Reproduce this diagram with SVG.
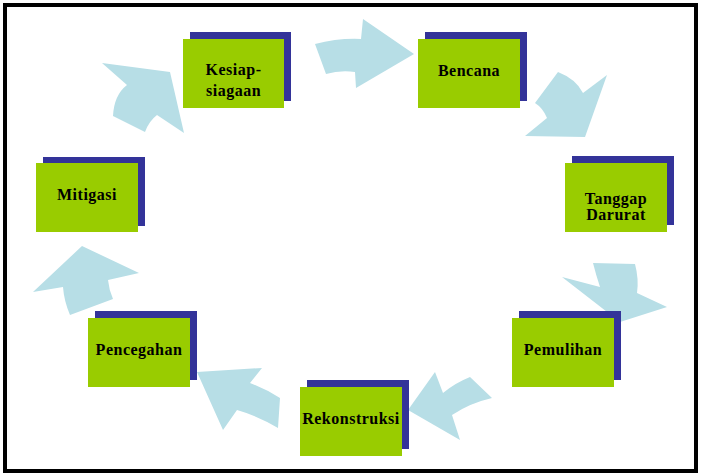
<svg xmlns="http://www.w3.org/2000/svg" width="702" height="476" viewBox="0 0 702 476">
<style>
.sh{fill:#333399}
.bx{fill:#99CC00}
.ar{fill:#B7DEE6}
text{font-family:"Liberation Serif","Times New Roman",serif;font-weight:bold;font-size:16px;letter-spacing:0.5px;fill:#000;text-anchor:middle}
</style>
<rect x="0" y="0" width="702" height="476" fill="#fff"/>
<rect x="5" y="5" width="691" height="466" fill="none" stroke="#000" stroke-width="4"/>
<g id="connectors">
<path class="ar" d="M113,116 Q114,95 127,85 L102,63 L170,72 L184,133 L157,115 Q149,121 145,132 Z"/>
<path class="ar" d="M315,44 Q338,38 361,39 L363,19 L414,54 L356,88 L355,72 Q340,70 326,74 Z"/>
<path class="ar" d="M558,72 Q576,79 583,93 L607,75 L585,137 L525,136 L547,118 Q543,108 535,103 Z"/>
<path class="ar" d="M593,263 L635,264 Q639,279 637,293 L667,307 L620,322 L562,277 L600,287 Q596,275 593,263 Z"/>
<path class="ar" d="M470,377 L492,398 Q470,403 452,415 L460,440 L408,410 L435,372 L443,393 Q455,383 470,377 Z"/>
<path class="ar" d="M280,398 L278,428 Q258,416 237,410 L223,430 L197,372 L262,368 L250,383 Q266,389 280,398 Z"/>
<path class="ar" d="M113,299 L70,315 Q64,301 63,287 L33,292 L82,246 L139,273 L108,280 Q109,290 113,299 Z"/>
</g>
<g id="kesiapsiagaan">
<rect class="sh" x="190" y="32" width="101" height="69"/>
<rect class="bx" x="183" y="39" width="101" height="69"/>
<text x="233.5" y="74.5">Kesiap-</text>
<text x="233.5" y="96">siagaan</text>
</g>
<g id="bencana">
<rect class="sh" x="425" y="32" width="102" height="69"/>
<rect class="bx" x="418" y="39" width="102" height="69"/>
<text x="469" y="76">Bencana</text>
</g>
<g id="tanggap-darurat">
<rect class="sh" x="572" y="156" width="102" height="69"/>
<rect class="bx" x="565" y="163" width="102" height="69"/>
<text x="616" y="204">Tanggap</text>
<text x="616" y="219.5">Darurat</text>
</g>
<g id="pemulihan">
<rect class="sh" x="519" y="311" width="102" height="69"/>
<rect class="bx" x="512" y="318" width="102" height="69"/>
<text x="563" y="355">Pemulihan</text>
</g>
<g id="rekonstruksi">
<rect class="sh" x="307" y="380" width="102" height="69"/>
<rect class="bx" x="300" y="387" width="102" height="69"/>
<text x="351" y="424">Rekonstruksi</text>
</g>
<g id="pencegahan">
<rect class="sh" x="95" y="311" width="102" height="69"/>
<rect class="bx" x="88" y="318" width="102" height="69"/>
<text x="139" y="355">Pencegahan</text>
</g>
<g id="mitigasi">
<rect class="sh" x="43" y="157" width="102" height="69"/>
<rect class="bx" x="36" y="163" width="102" height="69"/>
<text x="87" y="200">Mitigasi</text>
</g>
</svg>
